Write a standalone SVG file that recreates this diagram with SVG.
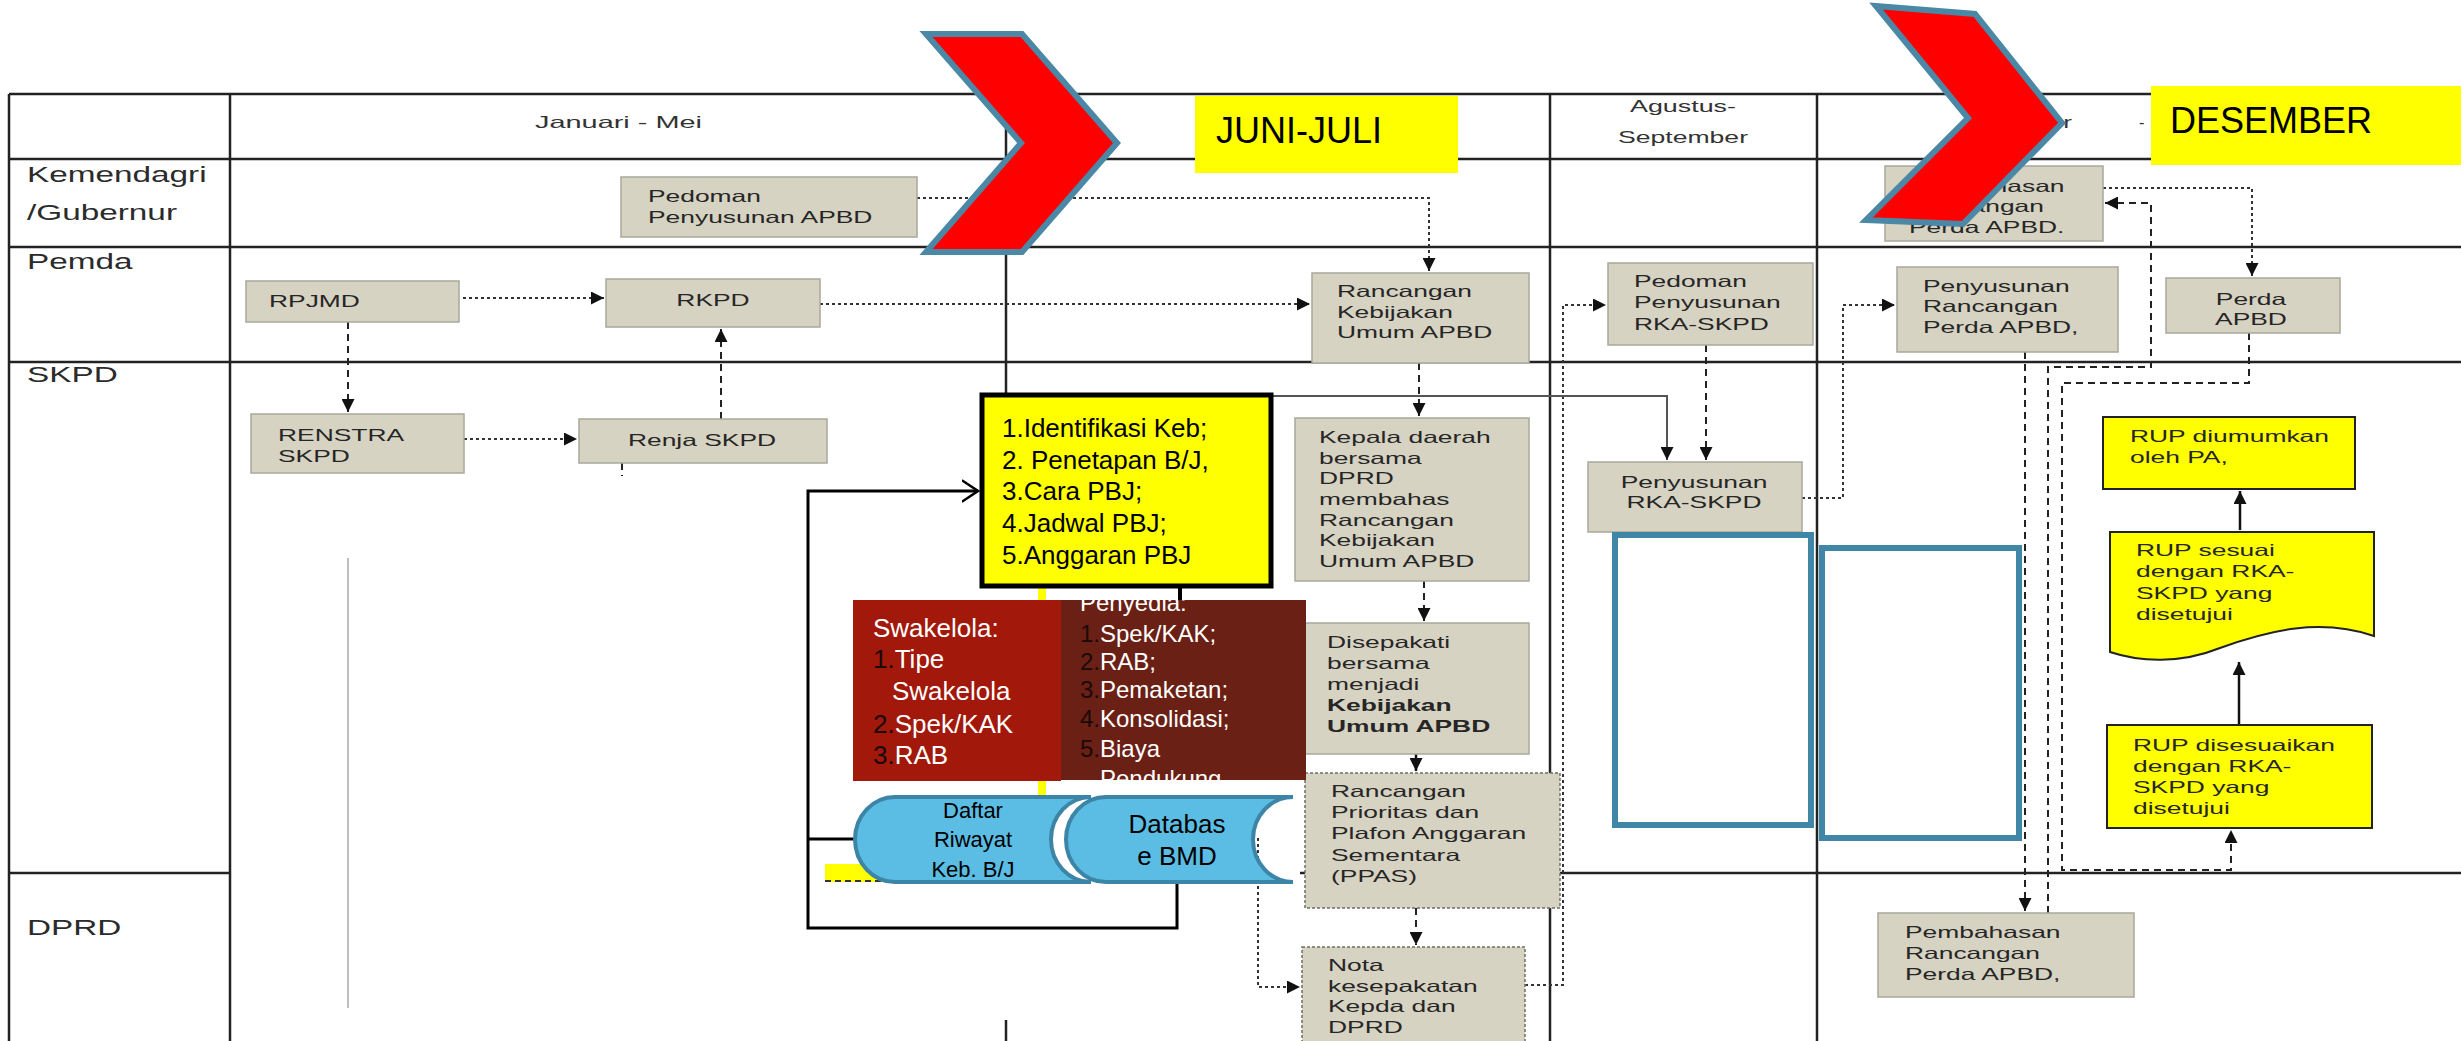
<svg xmlns="http://www.w3.org/2000/svg" width="2461" height="1041" viewBox="0 0 2461 1041">
<style>
 .grid{stroke:#222;stroke-width:2.5;fill:none}
 .lane{font-family:"Liberation Sans",Arial,sans-serif;font-size:21.5px;fill:#2b2b2b}
 .hdr{font-family:"Liberation Sans",Arial,sans-serif;font-size:16.5px;fill:#333}
 .gb{fill:#d7d3c3;stroke:#a9a89c;stroke-width:1.5}
 .gbd{fill:#d7d3c3;stroke:#6f6f66;stroke-width:1.5;stroke-dasharray:3 2}
 .gt{font-family:"Liberation Sans",Arial,sans-serif;font-size:16.5px;fill:#262626}
 .b{font-weight:bold}
 .dot{stroke:#333;stroke-width:2;stroke-dasharray:3 3;fill:none}
 .dash{stroke:#222;stroke-width:2;stroke-dasharray:7 5;fill:none}
 .solid{stroke:#111;stroke-width:2.5;fill:none}
 .loop{stroke:#000;stroke-width:3;fill:none}
 .chev{fill:#ff0000;stroke:#4a88a6;stroke-width:6;stroke-linejoin:miter}
 .ylab{fill:#ffff00}
 .big{font-family:"Liberation Sans",Arial,sans-serif;font-size:36px;fill:#000}
 .yl{font-family:"Liberation Sans",Arial,sans-serif;font-size:26px;fill:#000}
 .rt{font-family:"Liberation Sans",Arial,sans-serif;font-size:26px;fill:#fff}
 .pt{font-family:"Liberation Sans",Arial,sans-serif;font-size:24px;fill:#fff}
 .num{fill:#1a0a0a}
 .cyl{fill:#5bbde4;stroke:#3d85a6;stroke-width:4}
 .ct{font-family:"Liberation Sans",Arial,sans-serif;fill:#000;text-anchor:middle}
 .bl{fill:#fff;stroke:#3f86a7;stroke-width:6}
 .rup{fill:#ffff00;stroke:#222;stroke-width:2}
</style>
<defs>
 <marker id="ah" viewBox="0 0 10 10" refX="10" refY="5" markerWidth="13" markerHeight="13" markerUnits="userSpaceOnUse" orient="auto"><path d="M0,0 L10,5 L0,10 Z" fill="#111"/></marker>
 <marker id="oa" viewBox="0 0 10 12" refX="9" refY="6" markerWidth="18" markerHeight="24" markerUnits="userSpaceOnUse" orient="auto"><path d="M0,0 L9,6 L0,12" fill="none" stroke="#000" stroke-width="1.4"/></marker>
 <clipPath id="pc"><rect x="1061" y="600" width="245" height="180"/></clipPath>
</defs>

<g id="table">
 <path class="grid" d="M9,94 H2461 M9,159 H2461 M9,247 H2461 M9,362 H2461 M9,873 H230 M1300,873 H2461"/>
 <path class="grid" d="M9,94 V1041 M230,94 V1041 M1006,94 V395 M1006,1020 V1041 M1550,94 V1041 M1817,94 V1041"/>
 <text class="hdr" x="535" y="128" textLength="167" lengthAdjust="spacingAndGlyphs">Januari - Mei</text>
 <text class="hdr" x="1630" y="112" textLength="106" lengthAdjust="spacingAndGlyphs">Agustus-</text>
 <text class="hdr" x="1618" y="143" textLength="130" lengthAdjust="spacingAndGlyphs">September</text>
 <text class="hdr" x="1978" y="128" textLength="94" lengthAdjust="spacingAndGlyphs">Oktober</text>
 <text class="hdr" x="2139" y="128">-</text>
 <text class="lane" transform="translate(27,182) scale(1.55,1)">Kemendagri</text>
 <text class="lane" transform="translate(27,220) scale(1.55,1)">/Gubernur</text>
 <text class="lane" transform="translate(27,269) scale(1.55,1)">Pemda</text>
 <text class="lane" transform="translate(27,382) scale(1.55,1)">SKPD</text>
 <text class="lane" transform="translate(27,935) scale(1.55,1)">DPRD</text>
</g>

<g id="connectors">
 <path class="dot" d="M463,298 H604" marker-end="url(#ah)"/>
 <path class="dash" d="M348,322 V412" marker-end="url(#ah)"/>
 <path class="dot" d="M464,439 H577" marker-end="url(#ah)"/>
 <path class="dash" d="M721,419 V329" marker-end="url(#ah)"/>
 <path class="dash" d="M622,463 V476"/>
 <path d="M348,558 V1008" stroke="#aaa" stroke-width="1.5" fill="none"/>
 <path class="dot" d="M917,198 H1429 V271" marker-end="url(#ah)"/>
 <path class="dot" d="M820,304 H1310" marker-end="url(#ah)"/>
 <path class="dash" d="M1419,363 V416" marker-end="url(#ah)"/>
 <path class="dash" d="M1424,581 V621" marker-end="url(#ah)"/>
 <path class="solid" d="M1416,754 V771" marker-end="url(#ah)"/>
 <path class="dash" d="M1416,908 V945" marker-end="url(#ah)"/>
 <path class="dot" d="M1258,838 V987 H1300" marker-end="url(#ah)"/>
 <path class="dot" d="M1525,985 H1563 V305 H1606" marker-end="url(#ah)"/>
 <path d="M1271,396 H1667 V460" stroke="#555" stroke-width="2" fill="none" marker-end="url(#ah)"/>
 <path class="dash" d="M1706,345 V460" marker-end="url(#ah)"/>
 <path class="dot" d="M1802,498 H1843 V305 H1895" marker-end="url(#ah)"/>
 <path class="dash" d="M2025,352 V911" marker-end="url(#ah)"/>
 <path class="dash" d="M2048,913 V367 H2151 V203 H2105" marker-end="url(#ah)"/>
 <path class="dot" d="M2103,188 H2252 V276" marker-end="url(#ah)"/>
 <path class="dash" d="M2249,333 V383 H2062 V870 H2231 V830" marker-end="url(#ah)"/>
 <path class="solid" d="M2239,725 V662" marker-end="url(#ah)"/>
 <path class="solid" d="M2240,530 V491" marker-end="url(#ah)"/>
 <rect x="1038" y="588" width="8" height="209" fill="#ffff00"/>
 <rect x="825" y="864" width="115" height="18" fill="#ffff00"/>
 <path d="M825,881 H940" stroke="#333" stroke-width="2" stroke-dasharray="6 4"/>
 <path class="loop" d="M1177,882 V928 H808 V491 H978" marker-end="url(#oa)"/>
 <path class="loop" d="M808,839 H855"/>
</g>

<g id="pedoman-apbd"><rect class="gb" x="621" y="177" width="296" height="60"/>
 <text class="gt" transform="translate(648,202) scale(1.6,1)"><tspan x="0" y="0">Pedoman</tspan><tspan x="0" y="21">Penyusunan APBD</tspan></text></g>
<g id="rpjmd"><rect class="gb" x="246" y="281" width="213" height="41"/>
 <text class="gt" transform="translate(269,307) scale(1.6,1)">RPJMD</text></g>
<g id="rkpd"><rect class="gb" x="606" y="279" width="214" height="48"/>
 <text class="gt" text-anchor="middle" transform="translate(713,306) scale(1.6,1)">RKPD</text></g>
<g id="renstra"><rect class="gb" x="251" y="414" width="213" height="59"/>
 <text class="gt" transform="translate(278,441) scale(1.6,1)"><tspan x="0" y="0">RENSTRA</tspan><tspan x="0" y="21">SKPD</tspan></text></g>
<g id="renja"><rect class="gb" x="579" y="419" width="248" height="44"/>
 <text class="gt" text-anchor="middle" transform="translate(702,446) scale(1.6,1)">Renja SKPD</text></g>
<g id="rancangan-kua"><rect class="gb" x="1312" y="273" width="217" height="90"/>
 <text class="gt" transform="translate(1337,297) scale(1.6,1)"><tspan x="0" y="0">Rancangan</tspan><tspan x="0" y="21">Kebijakan</tspan><tspan x="0" y="41">Umum APBD</tspan></text></g>
<g id="kepala"><rect class="gb" x="1295" y="418" width="234" height="163"/>
 <text class="gt" transform="translate(1319,443) scale(1.6,1)"><tspan x="0" y="0">Kepala daerah</tspan><tspan x="0" y="20.7">bersama</tspan><tspan x="0" y="41.4">DPRD</tspan><tspan x="0" y="62.1">membahas</tspan><tspan x="0" y="82.8">Rancangan</tspan><tspan x="0" y="103.5">Kebijakan</tspan><tspan x="0" y="124.2">Umum APBD</tspan></text></g>
<g id="disepakati"><rect class="gb" x="1305" y="623" width="224" height="131"/>
 <text class="gt" transform="translate(1327,648) scale(1.6,1)"><tspan x="0" y="0">Disepakati</tspan><tspan x="0" y="21">bersama</tspan><tspan x="0" y="42">menjadi</tspan><tspan class="b" x="0" y="63">Kebijakan</tspan><tspan class="b" x="0" y="84">Umum APBD</tspan></text></g>
<g id="ppas"><rect class="gbd" x="1305" y="773" width="255" height="135"/>
 <text class="gt" transform="translate(1331,797) scale(1.6,1)"><tspan x="0" y="0">Rancangan</tspan><tspan x="0" y="21.2">Prioritas dan</tspan><tspan x="0" y="42.4">Plafon Anggaran</tspan><tspan x="0" y="63.6">Sementara</tspan><tspan x="0" y="84.8">(PPAS)</tspan></text></g>
<g id="nota"><rect class="gbd" x="1302" y="947" width="223" height="110"/>
 <text class="gt" transform="translate(1328,971) scale(1.6,1)"><tspan x="0" y="0">Nota</tspan><tspan x="0" y="20.7">kesepakatan</tspan><tspan x="0" y="41.4">Kepda dan</tspan><tspan x="0" y="62.1">DPRD</tspan></text></g>
<g id="pedoman-rka"><rect class="gb" x="1608" y="263" width="205" height="82"/>
 <text class="gt" transform="translate(1634,287) scale(1.6,1)"><tspan x="0" y="0">Pedoman</tspan><tspan x="0" y="21.5">Penyusunan</tspan><tspan x="0" y="43">RKA-SKPD</tspan></text></g>
<g id="penyusunan-rka"><rect class="gb" x="1588" y="462" width="214" height="70"/>
 <text class="gt" text-anchor="middle" transform="translate(1694,488) scale(1.6,1)"><tspan x="0" y="0">Penyusunan</tspan><tspan x="0" y="20">RKA-SKPD</tspan></text></g>
<g id="pembahasan-kem"><rect class="gb" x="1885" y="166" width="218" height="75"/>
 <text class="gt" transform="translate(1909,192) scale(1.6,1)"><tspan x="0" y="0">Pembahasan</tspan><tspan x="0" y="20.5">Rancangan</tspan><tspan x="0" y="41">Perda APBD.</tspan></text></g>
<g id="penyusunan-perda"><rect class="gb" x="1897" y="267" width="221" height="85"/>
 <text class="gt" transform="translate(1923,292) scale(1.6,1)"><tspan x="0" y="0">Penyusunan</tspan><tspan x="0" y="20.5">Rancangan</tspan><tspan x="0" y="41">Perda APBD,</tspan></text></g>
<g id="perda-apbd"><rect class="gb" x="2166" y="278" width="174" height="55"/>
 <text class="gt" text-anchor="middle" transform="translate(2251,305) scale(1.6,1)"><tspan x="0" y="0">Perda</tspan><tspan x="0" y="20">APBD</tspan></text></g>
<g id="pembahasan-dprd"><rect class="gb" x="1878" y="913" width="256" height="84"/>
 <text class="gt" transform="translate(1905,938) scale(1.6,1)"><tspan x="0" y="0">Pembahasan</tspan><tspan x="0" y="21">Rancangan</tspan><tspan x="0" y="42">Perda APBD,</tspan></text></g>

<g id="rup-diumumkan"><rect class="rup" x="2103" y="417" width="252" height="72"/>
 <text class="gt" transform="translate(2130,442) scale(1.6,1)"><tspan x="0" y="0">RUP diumumkan</tspan><tspan x="0" y="21">oleh PA,</tspan></text></g>
<g id="rup-sesuai"><path class="rup" d="M2110,532 H2374 V636 C2320,618 2270,630 2220,648 C2180,664 2140,662 2110,652 Z"/>
 <text class="gt" transform="translate(2136,556) scale(1.6,1)"><tspan x="0" y="0">RUP sesuai</tspan><tspan x="0" y="21.5">dengan  RKA-</tspan><tspan x="0" y="43">SKPD yang</tspan><tspan x="0" y="64.5">disetujui</tspan></text></g>
<g id="rup-disesuaikan"><rect class="rup" x="2107" y="725" width="265" height="103"/>
 <text class="gt" transform="translate(2133,751) scale(1.6,1)"><tspan x="0" y="0">RUP disesuaikan</tspan><tspan x="0" y="21">dengan RKA-</tspan><tspan x="0" y="42">SKPD yang</tspan><tspan x="0" y="63">disetujui</tspan></text></g>

<g id="blank-1"><rect class="bl" x="1615" y="535" width="196" height="290"/></g>
<g id="blank-2"><rect class="bl" x="1822" y="548" width="197" height="290"/></g>

<g id="list-pbj"><rect x="982" y="395" width="289" height="191" fill="#ffff00" stroke="#000" stroke-width="5"/>
 <text class="yl" x="1002" y="437">1.Identifikasi Keb;</text>
 <text class="yl" x="1002" y="469">2. Penetapan B/J,</text>
 <text class="yl" x="1002" y="500">3.Cara PBJ;</text>
 <text class="yl" x="1002" y="532">4.Jadwal PBJ;</text>
 <text class="yl" x="1002" y="564">5.Anggaran PBJ</text></g>

<g id="swakelola"><rect x="853" y="600" width="208" height="181" fill="#a2180a"/>
 <text class="rt" x="873" y="637">Swakelola:</text>
 <text class="rt" x="873" y="668"><tspan class="num">1.</tspan>Tipe</text>
 <text class="rt" x="892" y="700">Swakelola</text>
 <text class="rt" x="873" y="733"><tspan class="num">2.</tspan>Spek/KAK</text>
 <text class="rt" x="873" y="764"><tspan class="num">3.</tspan>RAB</text></g>
<g id="penyedia"><rect x="1061" y="600" width="245" height="180" fill="#6a2015"/>
 <g clip-path="url(#pc)">
 <text class="pt" x="1080" y="611">Penyedia:</text>
 <text class="pt" x="1080" y="642"><tspan class="num">1.</tspan>Spek/KAK;</text>
 <text class="pt" x="1080" y="670"><tspan class="num">2.</tspan>RAB;</text>
 <text class="pt" x="1080" y="698"><tspan class="num">3.</tspan>Pemaketan;</text>
 <text class="pt" x="1080" y="727"><tspan class="num">4.</tspan>Konsolidasi;</text>
 <text class="pt" x="1080" y="757"><tspan class="num">5.</tspan>Biaya</text>
 <text class="pt" x="1100" y="787">Pendukung</text></g></g>
<path d="M1180,588 V600" stroke="#000" stroke-width="4"/>

<g id="daftar"><path class="cyl" d="M895,797 H1091 A40,42.5 0 0 0 1091,882 H895 A40,42.5 0 0 1 895,797 Z"/>
 <text class="ct" font-size="22" x="973" y="818">Daftar</text>
 <text class="ct" font-size="22" x="973" y="847">Riwayat</text>
 <text class="ct" font-size="22" x="973" y="877">Keb. B/J</text></g>
<g id="database"><path class="cyl" d="M1106,797 H1293 A40,42.5 0 0 0 1293,882 H1106 A40,42.5 0 0 1 1106,797 Z"/>
 <text class="ct" font-size="26" x="1177" y="833">Databas</text>
 <text class="ct" font-size="26" x="1177" y="865">e BMD</text></g>

<g id="juni-juli"><rect class="ylab" x="1195" y="96" width="263" height="77"/><text class="big" x="1216" y="143">JUNI-JULI</text></g>
<g id="desember"><rect class="ylab" x="2151" y="86" width="310" height="79"/><text class="big" x="2170" y="133">DESEMBER</text></g>
<g id="chevron-1"><polygon class="chev" points="926,34 1022,34 1117,143 1022,252 926,252 1021,143"/></g>
<g id="chevron-2"><polygon class="chev" points="1876,6 1975,14 2062,123 1963,224 1866,220 1968,118"/></g>
</svg>
